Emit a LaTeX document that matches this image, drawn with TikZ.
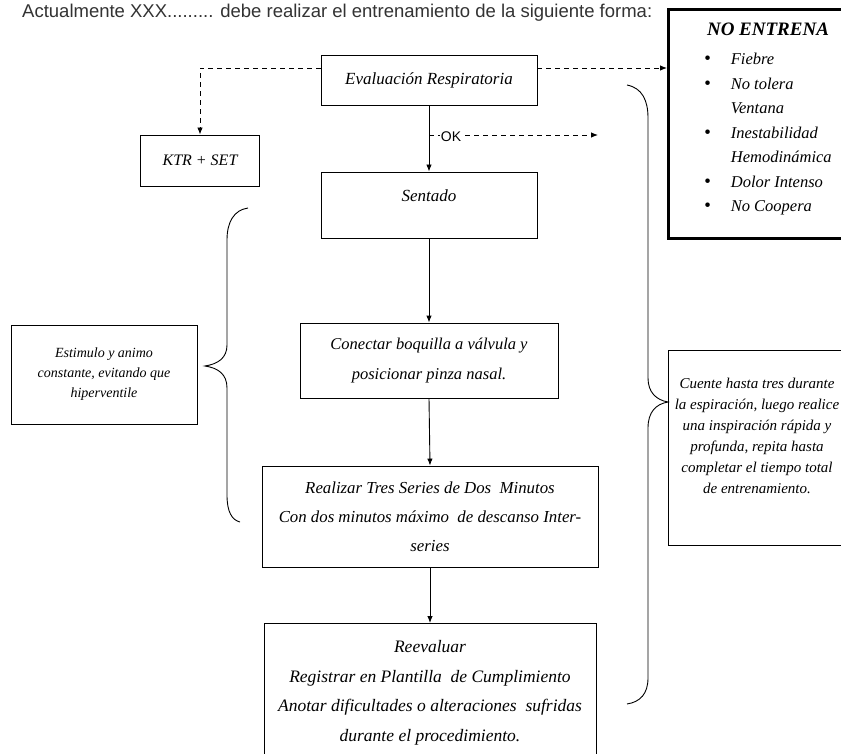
\documentclass[tikz,border=0pt]{standalone}
\usepackage{fontspec}
\setmainfont{Liberation Serif}
\setsansfont{Liberation Sans}
\usetikzlibrary{arrows.meta,calc}
\tikzset{
  box/.style={draw, line width=0.9pt, inner sep=2pt, align=center, font=\itshape},
  arr/.style={-{Latex[length=7pt,width=5.5pt]}, line width=0.9pt},
  dsh/.style={dashed, dash pattern=on 5pt off 4pt, line width=0.9pt},
  brc/.style={line width=0.9pt},
  txt/.style={align=center, font=\itshape, inner sep=0pt}
}
\newcommand{\bigbul}{{\fontsize{19}{19}\selectfont\textbullet}}
\begin{document}
\begin{tikzpicture}[x=1pt,y=-1pt]
\useasboundingbox (0,0) rectangle (841,754);
\clip (0,0) rectangle (841,754);
\fill[white] (0,0) rectangle (841,754);

% header
\node[anchor=west, inner sep=0pt, font=\sffamily\fontsize{18.5}{20}\selectfont, text=black!80] (head) at (22,13)
  {Actualmente XXX......... debe realizar el entrenamiento de la siguiente forma:};

% main flow boxes
\node[box, minimum width=216pt, minimum height=50pt, font=\itshape\fontsize{17}{20}\selectfont] (eval) at (429,80) {Evaluación Respiratoria};
\node[box, minimum width=216pt, minimum height=66pt] (sent) at (429,205) {};
\node[txt, font=\itshape\fontsize{17}{20}\selectfont] (sentT) at (429,196) {Sentado};
\node[box, minimum width=258pt, minimum height=75pt, font=\itshape\fontsize{16.5}{30}\selectfont] (con) at (429,360.5)
  {Conectar boquilla a válvula y\\ posicionar pinza nasal.};
\node[box, minimum width=336pt, minimum height=101pt, font=\itshape\fontsize{16.8}{29}\selectfont] (real) at (430,516.5)
  {Realizar Tres Series de Dos\ \ Minutos\\ Con dos minutos máximo\ \ de descanso Inter-\\ series};
\node[box, minimum width=332pt, minimum height=160pt, anchor=north] (reev) at (430,623) {};
\node[txt, font=\itshape\fontsize{17.5}{29.5}\selectfont] (reevT) at (430,693)
  {Reevaluar\\ Registrar en Plantilla\ \ de Cumplimiento\\ Anotar dificultades o alteraciones\ \ sufridas\\ durante el procedimiento.};

% side boxes
\node[box, minimum width=119pt, minimum height=51pt, font=\itshape\fontsize{16}{18}\selectfont] (ktr) at (200,160.5) {KTR + SET};
\node[box, minimum width=186pt, minimum height=99pt, font=\itshape\fontsize{14}{20}\selectfont] (estim) at (104,374.5)
  {Estimulo y animo\\ constante, evitando que\\ hiperventile};
\node[box, minimum width=180pt, minimum height=195pt] (cuente) at (758,447.5) {};
\node[txt, font=\itshape\fontsize{15}{21}\selectfont] (cuenteT) at (757,436)
  {Cuente hasta tres durante\\ la espiración, luego realice\\ una inspiración rápida y\\ profunda, repita hasta\\ completar el tiempo total\\ de entrenamiento.};

% NO ENTRENA box
\node[draw, line width=2.6pt, minimum width=190pt, minimum height=229pt, anchor=north west, inner sep=0pt] (noent) at (667,8) {};
\node[txt, font=\bfseries\itshape\fontsize{19}{20}\selectfont] (noentT) at (768,29) {NO ENTRENA};
\node[anchor=north west, inner sep=0pt, font=\itshape\fontsize{16.5}{24.5}\selectfont] (noentL) at (704,47.5)
  {\begin{tabular}{@{}c@{\hspace{20pt}}l@{}}
   \bigbul & Fiebre\\
   \bigbul & No tolera\\
           & Ventana\\
   \bigbul & Inestabilidad\\
           & Hemodinámica\\
   \bigbul & Dolor Intenso\\
   \bigbul & No Coopera
   \end{tabular}};

% connectors
\coordinate (y68) at (0,68);
\draw[arr] (eval.south) -- (sent.north);
\draw[arr] (sent.south) -- (con.north);
\draw[arr] (con.south) -- (real.north);
\draw[arr] (real.south) -- (reev.north);
\draw[dsh, arr] (eval.west |- y68) -| (ktr.north);
\draw[dsh, arr] (eval.east |- y68) -- (noent.west |- y68);
\coordinate (okS) at (429,135);
\coordinate (okE) at (598,135);
\draw[dsh, arr] (okS) -- (okE);
\node[fill=white, inner sep=1pt, font=\sffamily\fontsize{14}{15}\selectfont] (ok) at (451,137) {OK};

% braces
\draw[brc] (248,208) .. controls (234,210) and (227,222) .. (227,240) -- (227,345)
  .. controls (227,358) and (218,364) .. (205,366)
  .. controls (218,368) and (227,374) .. (227,388) -- (227,495)
  .. controls (227,512) and (232,520) .. (240,522);
\draw[brc] (627,85) .. controls (642,88) and (648,100) .. (648,118) -- (648,378)
  .. controls (648,392) and (656,400) .. (668,402)
  .. controls (656,404) and (648,412) .. (648,428) -- (648,678)
  .. controls (648,694) and (640,702) .. (627,704);
\end{tikzpicture}
\end{document}
